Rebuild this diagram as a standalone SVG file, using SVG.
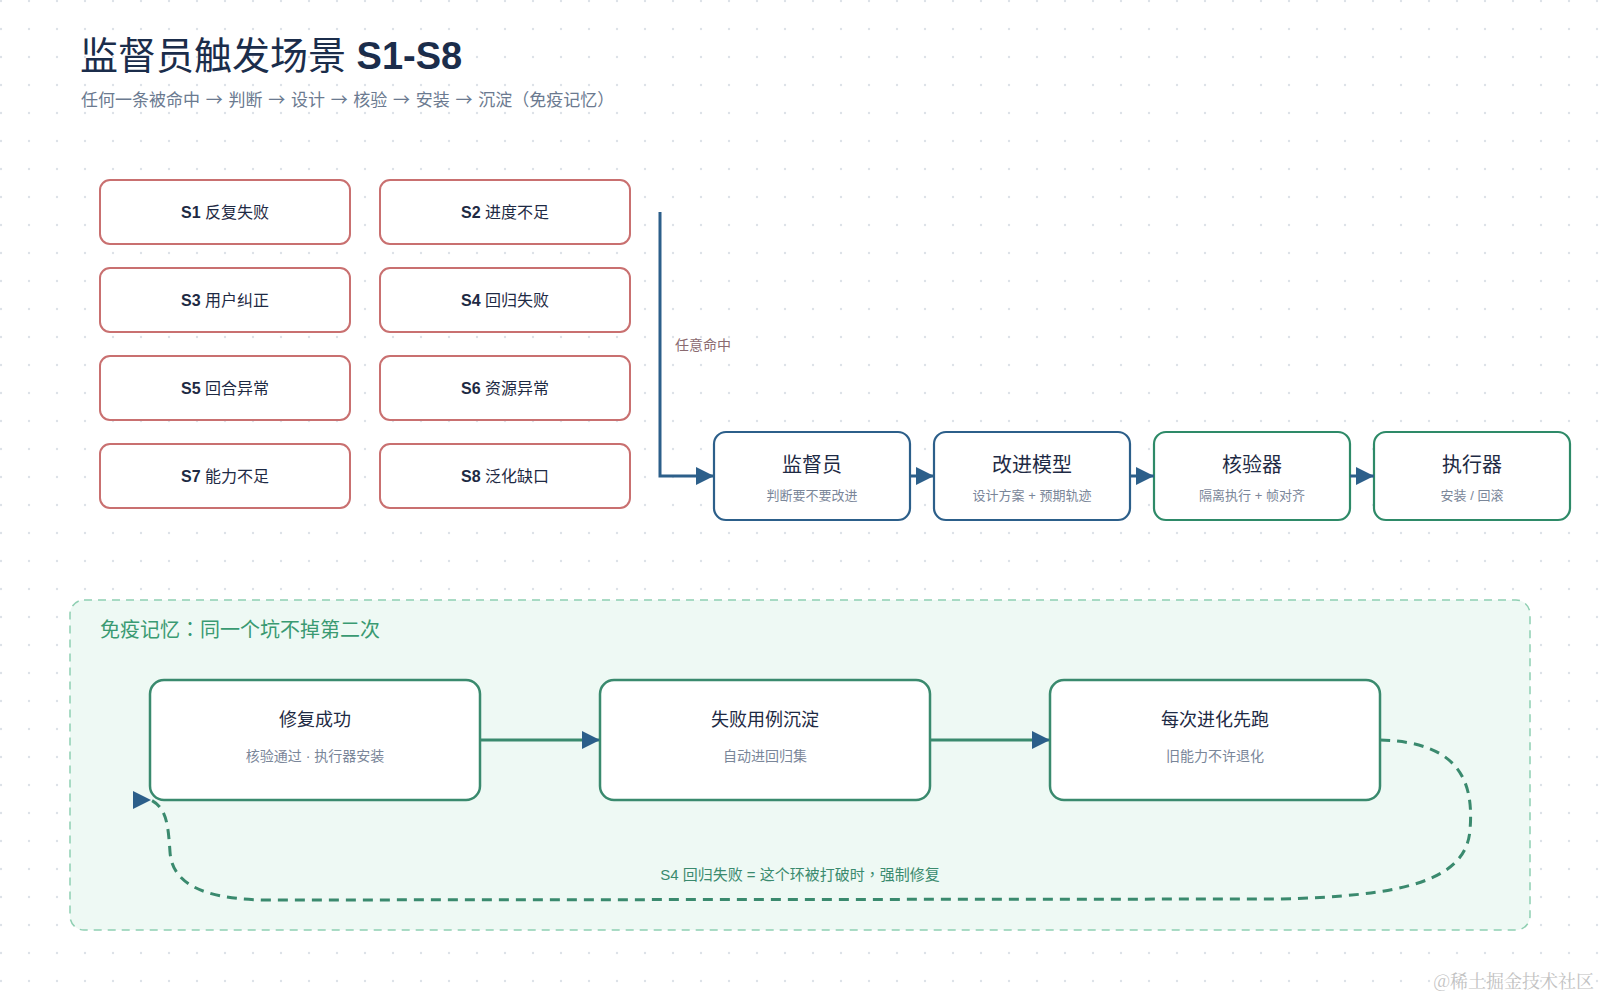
<svg xmlns="http://www.w3.org/2000/svg" width="1600" height="1000" viewBox="0 0 1600 1000">
  <defs>
    <pattern id="dots" x="-13" y="-13" width="28" height="28" patternUnits="userSpaceOnUse">
      <circle cx="14" cy="14" r="1.2" fill="#dde2e8"/>
    </pattern>
    <marker id="arrow" viewBox="0 0 10 10" refX="10" refY="5" markerWidth="18" markerHeight="20" markerUnits="userSpaceOnUse" orient="auto">
      <path d="M0,0 L10,5 L0,10 z" fill="#2c5f8a"/>
    </marker>
    <marker id="arrowR" viewBox="0 0 10 10" refX="10" refY="5" markerWidth="18" markerHeight="20" markerUnits="userSpaceOnUse" orient="0">
      <path d="M0,0 L10,5 L0,10 z" fill="#2c5f8a"/>
    </marker>
    <style>
      .f { font-family: "Liberation Sans", "Noto Sans CJK SC", sans-serif; }
      .cjk { font-family: "Noto Sans CJK SC", sans-serif; }
      .tc { font-family: "Noto Sans CJK TC", sans-serif; }
      .title { font-size: 38px; fill: #1b2d4b; }
      .sub { font-size: 17px; fill: #6b7a90; word-spacing: 1px; }
      .sbox { fill: #ffffff; stroke: #c97070; stroke-width: 2; }
      .stext { font-size: 16px; fill: #1e2a44; text-anchor: middle; }
      .pbox-b { fill: #ffffff; stroke: #2c5f8a; stroke-width: 2.2; }
      .pbox-g { fill: #ffffff; stroke: #2e8a68; stroke-width: 2.2; }
      .ptitle { font-size: 20px; fill: #1e2a44; text-anchor: middle; }
      .psub { font-size: 13px; fill: #7a8699; text-anchor: middle; }
      .lbox { fill: #ffffff; stroke: #3a8a6e; stroke-width: 2.5; }
      .ltitle { font-size: 18px; fill: #1e2a44; text-anchor: middle; }
      .lsub { font-size: 14px; fill: #7a8699; text-anchor: middle; }
      .conn-b { fill: none; stroke: #2c5f8a; stroke-width: 3; }
      .conn-g { fill: none; stroke: #3a8a6e; stroke-width: 3; }
      .loop { fill: none; stroke: #3a8a6e; stroke-width: 3; stroke-dasharray: 10 7; }
    </style>
  </defs>

  <rect width="1600" height="1000" fill="#ffffff"/>
  <rect width="1600" height="1000" fill="url(#dots)"/>

  <g id="header">
    <text class="f title" x="80" y="69">监督员触发场景 <tspan font-weight="bold">S1-S8</tspan></text>
    <text class="f sub" x="81" y="106">任何一条被命中 <tspan class="cjk">→</tspan> 判断 <tspan class="cjk">→</tspan> 设计 <tspan class="cjk">→</tspan> 核验 <tspan class="cjk">→</tspan> 安装 <tspan class="cjk">→</tspan> 沉淀（免疫记忆）</text>
  </g>

  <g id="panel">
    <rect x="70" y="600" width="1460" height="330" rx="14" fill="#eef9f4" stroke="#8fcfb2" stroke-width="1.5" stroke-dasharray="8 6"/>
    <text class="f" x="100" y="637" font-size="20" fill="#3a9a72">免疫记忆<tspan class="tc">：</tspan>同一个坑不掉第二次</text>
  </g>

  <g id="s1"><rect class="sbox" x="100" y="180" width="250" height="64" rx="10"/><text class="f stext" x="225" y="218"><tspan font-weight="bold">S1</tspan> 反复失败</text></g>
  <g id="s2"><rect class="sbox" x="380" y="180" width="250" height="64" rx="10"/><text class="f stext" x="505" y="218"><tspan font-weight="bold">S2</tspan> 进度不足</text></g>
  <g id="s3"><rect class="sbox" x="100" y="268" width="250" height="64" rx="10"/><text class="f stext" x="225" y="306"><tspan font-weight="bold">S3</tspan> 用户纠正</text></g>
  <g id="s4"><rect class="sbox" x="380" y="268" width="250" height="64" rx="10"/><text class="f stext" x="505" y="306"><tspan font-weight="bold">S4</tspan> 回归失败</text></g>
  <g id="s5"><rect class="sbox" x="100" y="356" width="250" height="64" rx="10"/><text class="f stext" x="225" y="394"><tspan font-weight="bold">S5</tspan> 回合异常</text></g>
  <g id="s6"><rect class="sbox" x="380" y="356" width="250" height="64" rx="10"/><text class="f stext" x="505" y="394"><tspan font-weight="bold">S6</tspan> 资源异常</text></g>
  <g id="s7"><rect class="sbox" x="100" y="444" width="250" height="64" rx="10"/><text class="f stext" x="225" y="482"><tspan font-weight="bold">S7</tspan> 能力不足</text></g>
  <g id="s8"><rect class="sbox" x="380" y="444" width="250" height="64" rx="10"/><text class="f stext" x="505" y="482"><tspan font-weight="bold">S8</tspan> 泛化缺口</text></g>

  <g id="supervisor"><rect class="pbox-b" x="714" y="432" width="196" height="88" rx="12"/><text class="f ptitle" x="812" y="472">监督员</text><text class="f psub" x="812" y="500">判断要不要改进</text></g>
  <g id="improver"><rect class="pbox-b" x="934" y="432" width="196" height="88" rx="12"/><text class="f ptitle" x="1032" y="472">改进模型</text><text class="f psub" x="1032" y="500">设计方案 + 预期轨迹</text></g>
  <g id="verifier"><rect class="pbox-g" x="1154" y="432" width="196" height="88" rx="12"/><text class="f ptitle" x="1252" y="472">核验器</text><text class="f psub" x="1252" y="500">隔离执行 + 帧对齐</text></g>
  <g id="executor"><rect class="pbox-g" x="1374" y="432" width="196" height="88" rx="12"/><text class="f ptitle" x="1472" y="472">执行器</text><text class="f psub" x="1472" y="500">安装 / 回滚</text></g>

  <g id="fixed"><rect class="lbox" x="150" y="680" width="330" height="120" rx="14"/><text class="f ltitle" x="315" y="726">修复成功</text><text class="f lsub" x="315" y="761">核验通过 · 执行器安装</text></g>
  <g id="settle"><rect class="lbox" x="600" y="680" width="330" height="120" rx="14"/><text class="f ltitle" x="765" y="726">失败用例沉淀</text><text class="f lsub" x="765" y="761">自动进回归集</text></g>
  <g id="prerun"><rect class="lbox" x="1050" y="680" width="330" height="120" rx="14"/><text class="f ltitle" x="1215" y="726">每次进化先跑</text><text class="f lsub" x="1215" y="761">旧能力不许退化</text></g>

  <g id="connectors">
    <path class="conn-b" d="M660 212 L660 476 L714 476" marker-end="url(#arrow)"/>
    <text class="f" x="675" y="350" font-size="14" fill="#8a6a70">任意命中</text>
    <path class="conn-b" d="M910 476 L934 476" marker-end="url(#arrow)"/>
    <path class="conn-b" d="M1130 476 L1154 476" marker-end="url(#arrow)"/>
    <path class="conn-b" d="M1350 476 L1374 476" marker-end="url(#arrow)"/>
    <path class="conn-g" d="M480 740 L600 740" marker-end="url(#arrow)"/>
    <path class="conn-g" d="M930 740 L1050 740" marker-end="url(#arrow)"/>
    <path class="loop" d="M1380 740 C1460 742 1474 782 1470 830 C1466 882 1400 896 1280 899 L270 900 C200 900 172 882 170 852 C168 822 166 808 151 800" marker-end="url(#arrowR)"/>
    <text class="f" x="800" y="880" font-size="15" fill="#3a8a6e" text-anchor="middle">S4 回归失败 = 这个环被打破时<tspan class="tc">，</tspan>强制修复</text>
  </g>

  <text x="1594" y="988" font-family="'Noto Serif CJK SC', 'Noto Sans CJK SC', serif" font-size="18" fill="#c2c2c2" text-anchor="end">@稀土掘金技术社区</text>
</svg>
